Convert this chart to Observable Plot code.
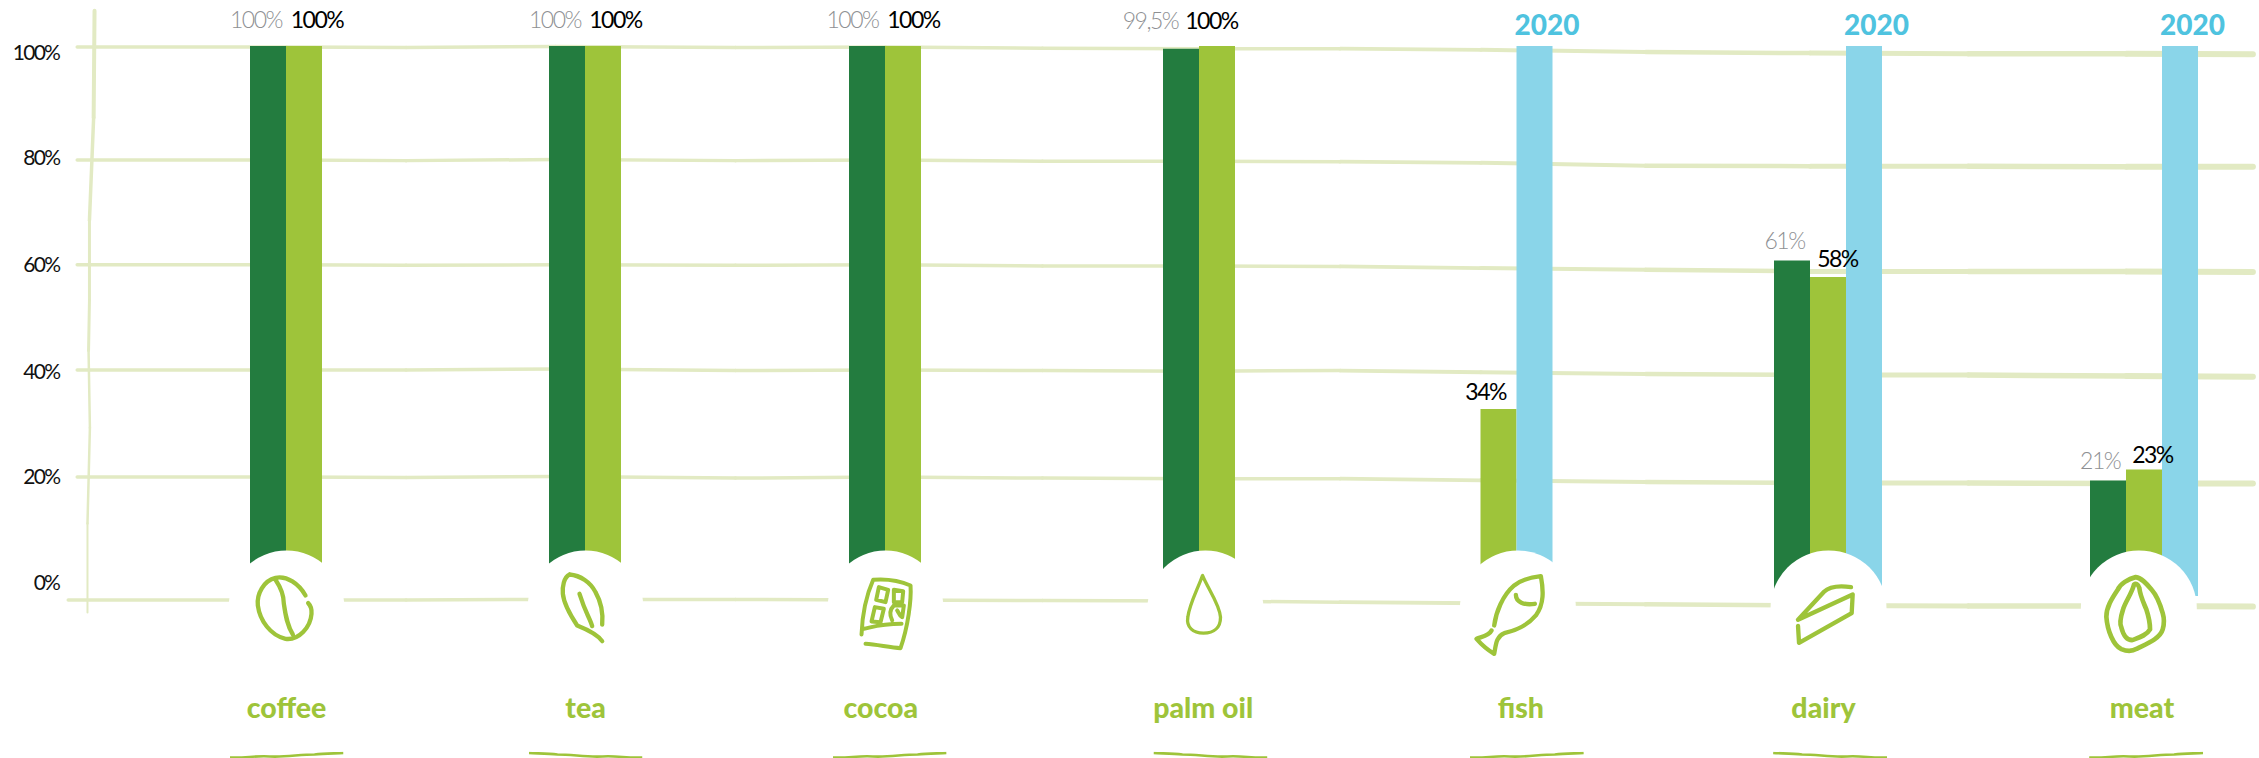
<!DOCTYPE html>
<html>
<head>
<meta charset="utf-8">
<style>
  html, body { margin: 0; padding: 0; background: #fff; }
  svg { display: block; }
</style>
<script src="https://cdn.jsdelivr.net/npm/d3@7"></script>
<script src="https://cdn.jsdelivr.net/npm/@observablehq/plot@0.6"></script>
</head>
<body>
<div id="chart"></div>
<script>
// Categories and series values, in percent
const categories = ["coffee", "tea", "cocoa", "palm oil", "fish", "dairy", "meat"];
const earlierShare = [100, 100, 100, 99.5, null, 61, 21];
const latestShare = [100, 100, 100, 100, 34, 58, 23];
const targetShare = [null, null, null, null, 100, 100, 100];
const earlierLabels = ["100%", "100%", "100%", "99,5%", null, "61%", "21%"];
const latestLabels = ["100%", "100%", "100%", "100%", "34%", "58%", "23%"];
const targetLabel = "2020";
const tickLabels = ["100%", "80%", "60%", "40%", "20%", "0%"];

// Group positions along the axis are irregular, so the x scale is piecewise
const COLORS = { dark: "#237C3F", light: "#9EC43A", blue: "#8AD5E9", blueText: "#4FC3DF", grid: "#E2EAC3", grey: "#8E9093" };
const BAR = 36;
const groupPixels = [286, 585, 885, 1199, 1480.5, 1810, 2126];

// The ruled lines are hand drawn: each is traced along these knots, in percent
const gridKnots = [-0.7, 0, 0.4, 0.9, 1.5, 2, 2.5, 3, 3.5, 4, 4.5, 5, 5.5, 6, 6.4];
const gridWeights = [3.5, 3.5, 3.5, 3.5, 3.5, 3.5, 3.5, 3.5, 3.5, 3.8, 4, 4.5, 5, 5.5, 6];
const gridTraces = [
  [99.9, 99.9, 99.8, 100, 99.8, 99.9, 99.7, 99.6, 99.6, 99.4, 99.0, 98.8, 98.7, 98.7, 98.6],
  [79.35, 79.35, 79.25, 79.45, 79.25, 79.35, 79.15, 79.15, 79.05, 78.85, 78.34, 78.24, 78.24, 78.14, 78.14],
  [60.31, 60.31, 60.21, 60.31, 60.21, 60.31, 60.11, 60.11, 60.01, 59.71, 59.41, 59.11, 59.11, 59.11, 59.0],
  [41.18, 41.18, 41.18, 41.38, 41.08, 41.18, 41.08, 40.97, 41.08, 40.77, 40.47, 40.27, 40.27, 40.07, 39.97],
  [21.73, 21.73, 21.63, 21.83, 21.53, 21.73, 21.53, 21.43, 21.43, 21.13, 20.83, 20.63, 20.63, 20.53, 20.53],
  [-0.63, -0.63, -0.63, -0.53, -0.53, -0.63, -0.73, -0.83, -1.03, -1.23, -1.43, -1.63, -1.73, -1.73, -1.84]
];
const tickLabelLevels = [98.8, 79.6, 60.2, 40.8, 21.6, 2.4];
const axisTraceX = [-0.642, -0.645, -0.659, -0.659, -0.662, -0.6575, -0.6656, -0.6656];
const axisTraceY = [106.5, 87.1, 68.4, 53.8, 44.7, 30.7, 13.3, -2.9];
const axisWeights = [4, 3.5, 3, 3, 2.5, 2.5, 2, 2];

// Label nudges from the top of each bar
const earlierDx = [-30.5, -30.5, -33, -49, 0, -26, -26.4];
const earlierDy = [-26, -26, -26, -28, 0, -19.5, -19.5];
const latestDx = [30.5, 30, 28, 12, 4.6, 27, 26];
const latestDy = [-26, -26, -26, -25.3, -16.7, -18, -14.2];

// Offsets of the badge, pictogram, name and underline from each group's position
const discShift = [0, 0, 0, 0.021, 0.112, 0.057, 0.039];
const iconShift = [0.0134, 0.0167, 0.016, 0, 0.121, 0.047, 0.027];
const nameShift = [0, 0, -0.016, 0.013, 0.121, 0.041, 0.049];
const underlineShift = [0, 0, 0.013, 0.039, 0.139, 0.062, 0.062];
const underlineFlipped = [false, true, false, true, false, true, false];

// Pictograms, brushed in a 360x330 box
const iconPaths = [
  "M225,105 C205,70 170,45 135,52 C100,60 78,100 82,135 C88,180 120,225 165,235 C205,240 240,200 243,160 C244,145 240,135 233,128 M135,58 C150,80 160,100 160,130 C165,165 170,195 187,222",
  "M117,42 C100,50 95,80 97,100 C100,130 120,165 140,195 C165,205 200,220 215,242 M117,42 C150,45 180,65 195,95 C212,125 218,160 215,192 M147,100 C155,125 165,150 172,165 C178,178 183,190 185,197",
  "M93,222 C95,170 105,110 128,58 C165,55 210,62 240,75 C243,120 232,200 210,263 C180,262 140,252 105,250 M100,205 C125,200 150,190 213,190 M145,80 L173,88 L165,125 L137,118 Z M190,88 L218,92 L215,125 L190,125 Z M133,140 L160,145 L150,185 L123,183 Z M185,180 C175,160 180,145 190,135 L220,135 L215,170 C205,165 205,155 200,150",
  "M189,45 C175,85 150,130 145,170 C140,200 160,218 192,218 C225,218 243,200 243,170 C240,130 205,85 189,45 Z",
  "M100,195 C105,155 125,105 160,75 C185,55 215,50 240,47 C248,90 250,130 225,165 C200,195 165,210 130,218 C105,228 105,255 100,280 C80,268 60,250 47,235 C65,228 85,225 92,210 M165,103 C165,125 190,135 222,130",
  "M98,178 L176,94 C190,80 220,75 257,80 M98,178 L262,102 L259,158 L101,247 L98,196",
  "M182,50 C160,55 135,70 128,88 C110,115 94,140 94,169 C97,210 115,255 139,266 C160,275 175,271 185,265 C215,250 255,235 263,207 C268,190 268,175 263,158 C255,130 245,105 230,88 C215,70 200,52 182,50 Z M177,72 C170,100 150,125 144,147 C135,175 133,190 139,201 C145,225 155,239 171,239 C190,232 215,225 225,207 C225,185 220,165 214,147 C205,125 195,105 193,83 C190,70 182,68 177,72 Z"
];
const iconWeights = [13, 13, 12, 10, 13, 13, 14];
const underlinePath = "M0,6 C15,7 25,4 40,5 C55,6 70,3 85,3 C95,2 105,2 114,1.5";

function svgSource(viewBox, width, height, inner) {
  const text = `<svg xmlns="http://www.w3.org/2000/svg" width="${width}" height="${height}" viewBox="${viewBox}">${inner}</svg>`;
  return "data:image/svg+xml," + encodeURIComponent(text);
}
const iconSource = (path, weight) => svgSource("0 0 360 330", 120, 110,
  `<path d="${path}" fill="none" stroke="${COLORS.light}" stroke-width="${weight}" stroke-linecap="round" stroke-linejoin="round"/>`);
const underlineSource = (flipped) => svgSource("0 0 114 8", 114, 8,
  `<path d="${underlinePath}" transform="${flipped ? "translate(114,0) scale(-1,1)" : ""}" fill="none" stroke="${COLORS.light}" stroke-width="2.6"/>`);

// One row per category
const rows = categories.map((name, i) => ({
  name, i,
  earlier: earlierShare[i], latest: latestShare[i], target: targetShare[i],
  earlierLabel: earlierLabels[i], latestLabel: latestLabels[i],
  icon: iconSource(iconPaths[i], iconWeights[i]),
  underline: underlineSource(underlineFlipped[i])
}));

// Consecutive pairs of knots become links, so the line weight can change along the trace
const gridSegments = gridTraces.flatMap((trace, level) =>
  trace.slice(1).map((v, k) => ({
    x1: k === 0 && level === 5 ? -0.73 : gridKnots[k],
    x2: gridKnots[k + 1],
    y1: trace[k],
    y2: v,
    w: gridWeights[k + 1]
  })));
const axisSegments = axisTraceY.slice(1).map((v, k) => ({
  x1: axisTraceX[k], x2: axisTraceX[k + 1], y1: axisTraceY[k], y2: v, w: axisWeights[k]
}));

const FONT = "Lato";
const barMark = (field, fill, opts) => Plot.rect(rows.filter((d) => d[field] != null), {
  x1: "i", x2: "i", y1: () => 0, y2: field, fill, ...opts
});
const valueLabels = (field, labelField, dxs, dys, fill, weight) =>
  rows.filter((d) => d[field] != null).map((d) => Plot.text([d], {
    x: "i", y: field, text: labelField, dx: dxs[d.i], dy: dys[d.i],
    fill, fontFamily: FONT, fontSize: 23, fontWeight: weight
  }));

const chart = Plot.plot({
  width: 2259,
  height: 758,
  margin: 0,
  style: { background: "#fff", overflow: "visible" },
  x: { type: "linear", domain: d3.range(categories.length), range: groupPixels, axis: null },
  y: { type: "linear", domain: [0, 100], range: [596, 46], axis: null },
  marks: [
    Plot.link(gridSegments, {
      x1: "x1", x2: "x2", y1: "y1", y2: "y2",
      stroke: COLORS.grid, strokeWidth: "w", strokeLinecap: "round"
    }),
    Plot.link(axisSegments, {
      x1: "x1", x2: "x2", y1: "y1", y2: "y2",
      stroke: COLORS.grid, strokeWidth: "w", strokeLinecap: "round"
    }),
    barMark("earlier", COLORS.dark, { insetLeft: -BAR, insetRight: 0 }),
    barMark("latest", COLORS.light, { insetLeft: 0, insetRight: -BAR }),
    barMark("target", COLORS.blue, { insetLeft: 0, insetRight: -BAR, dx: BAR }),
    Plot.dot(rows, { x: (d) => d.i + discShift[d.i], y: () => -2.18, r: 58, fill: "#fff", stroke: "none" }),
    Plot.image(rows, { x: (d) => d.i + iconShift[d.i], y: () => -3.45, src: "icon", width: 120, height: 110 }),
    Plot.image(rows, { x: (d) => d.i + underlineShift[d.i], y: () => -28.9, src: "underline", width: 114, height: 8 }),
    Plot.text(rows, {
      x: (d) => d.i + nameShift[d.i], y: () => -20.4, text: "name",
      fill: COLORS.light, fontFamily: FONT, fontWeight: 900, fontSize: 28.5
    }),
    Plot.text(tickLabels, {
      x: () => -0.76, y: (d, i) => tickLabelLevels[i], text: (d) => d,
      textAnchor: "end", fill: "#111", fontFamily: FONT, fontSize: 21
    }),
    ...valueLabels("earlier", "earlierLabel", earlierDx, earlierDy, COLORS.grey, 300),
    ...valueLabels("latest", "latestLabel", latestDx, latestDy, "#000", 400),
    Plot.text(rows.filter((d) => d.target != null), {
      x: "i", y: "target", text: () => targetLabel, dx: 66, dy: -20,
      fill: COLORS.blueText, fontFamily: FONT, fontWeight: 900, fontSize: 28
    })
  ]
});

// The figures are set tighter than the font's default spacing
const tighten = { 21: -1.7, 23: -1.5 };
for (const [size, spacing] of Object.entries(tighten)) {
  d3.select(chart).selectAll(`g[font-size="${size}"]`).attr("letter-spacing", spacing);
}
document.getElementById("chart").append(chart);
</script>
</body>
</html>
